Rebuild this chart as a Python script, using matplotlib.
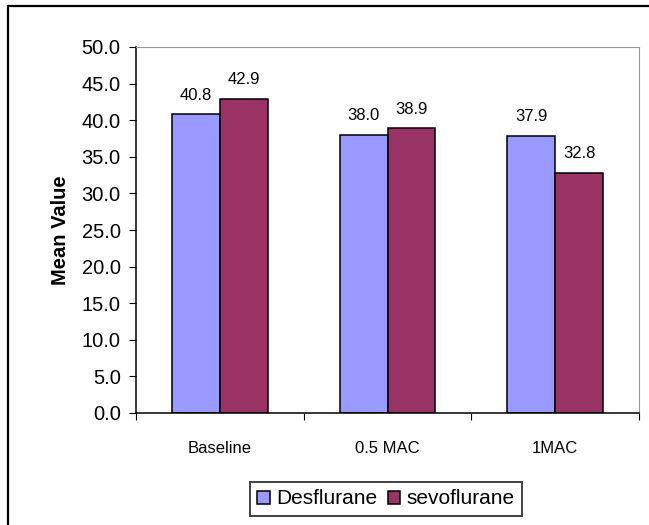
import numpy as np
import matplotlib.pyplot as plt
from matplotlib.patches import Rectangle

plt.rcParams['font.family'] = ['Liberation Sans', 'DejaVu Sans']

# Datos
categories = ["Baseline", "0.5 MAC", "1MAC"]
desflurane = [40.8, 38.0, 37.9]
sevoflurane = [42.9, 38.9, 32.8]
series_names = ["Desflurane", "sevoflurane"]
yticks = [0, 5, 10, 15, 20, 25, 30, 35, 40, 45, 50]

W, H = 649, 525
fig = plt.figure(figsize=(W / 100, H / 100), dpi=100)

# Marco exterior del gráfico (recortado a la derecha y abajo)
fig.patches.append(Rectangle((8 / W, -0.2), 1.2, 1.2 - 6 / H,
                             transform=fig.transFigure, fill=False,
                             edgecolor="black", linewidth=1.6))

ax = fig.add_axes([136 / W, 1 - 413 / H, (639 - 136) / W, (413 - 47) / H])

x = np.arange(len(categories))
w = 0.286
b1 = ax.bar(x - w / 2, desflurane, w, color="#9999FF", edgecolor="black", linewidth=1.1, label=series_names[0])
b2 = ax.bar(x + w / 2, sevoflurane, w, color="#993366", edgecolor="black", linewidth=1.1, label=series_names[1])

for bars, vals in ((b1, desflurane), (b2, sevoflurane)):
    for r, v in zip(bars, vals):
        ax.text(r.get_x() + r.get_width() / 2, v + 2.0, f"{v:.1f}",
                ha="center", va="baseline", fontsize=12)

ax.set_xlim(-0.5, 2.5)
ax.set_ylim(0, 50)
ax.set_yticks(yticks)
ax.set_yticklabels([f"{t:.1f}" for t in yticks], fontsize=14.5)
ax.set_ylabel("Mean Value", fontsize=14.5, fontweight="bold", labelpad=8)

# Marcas del eje x en los límites de cada categoría
ax.set_xticks([-0.5, 0.5, 1.5, 2.5])
ax.set_xticklabels([])
ax.set_xticks(x, minor=True)
ax.set_xticklabels(categories, minor=True, fontsize=12)
ax.tick_params(axis="x", which="minor", length=0, pad=20)
ax.tick_params(axis="x", which="major", length=5, direction="out")
ax.tick_params(axis="y", length=5, direction="out", pad=6)

for s in ("top", "right"):
    ax.spines[s].set_color("#999999")
for s in ("left", "bottom"):
    ax.spines[s].set_color("black")
    ax.spines[s].set_linewidth(1.1)

leg = fig.legend(handles=[b1, b2], loc="center", bbox_to_anchor=(386 / W, 1 - 499 / H),
                 ncol=2, fontsize=15, frameon=True, fancybox=False, edgecolor="black",
                 handlelength=0.6, handleheight=0.6, handletextpad=0.3, columnspacing=0.5,
                 borderpad=0.35)
leg.get_frame().set_linewidth(1.3)

fig.savefig("out.png", dpi=100)
